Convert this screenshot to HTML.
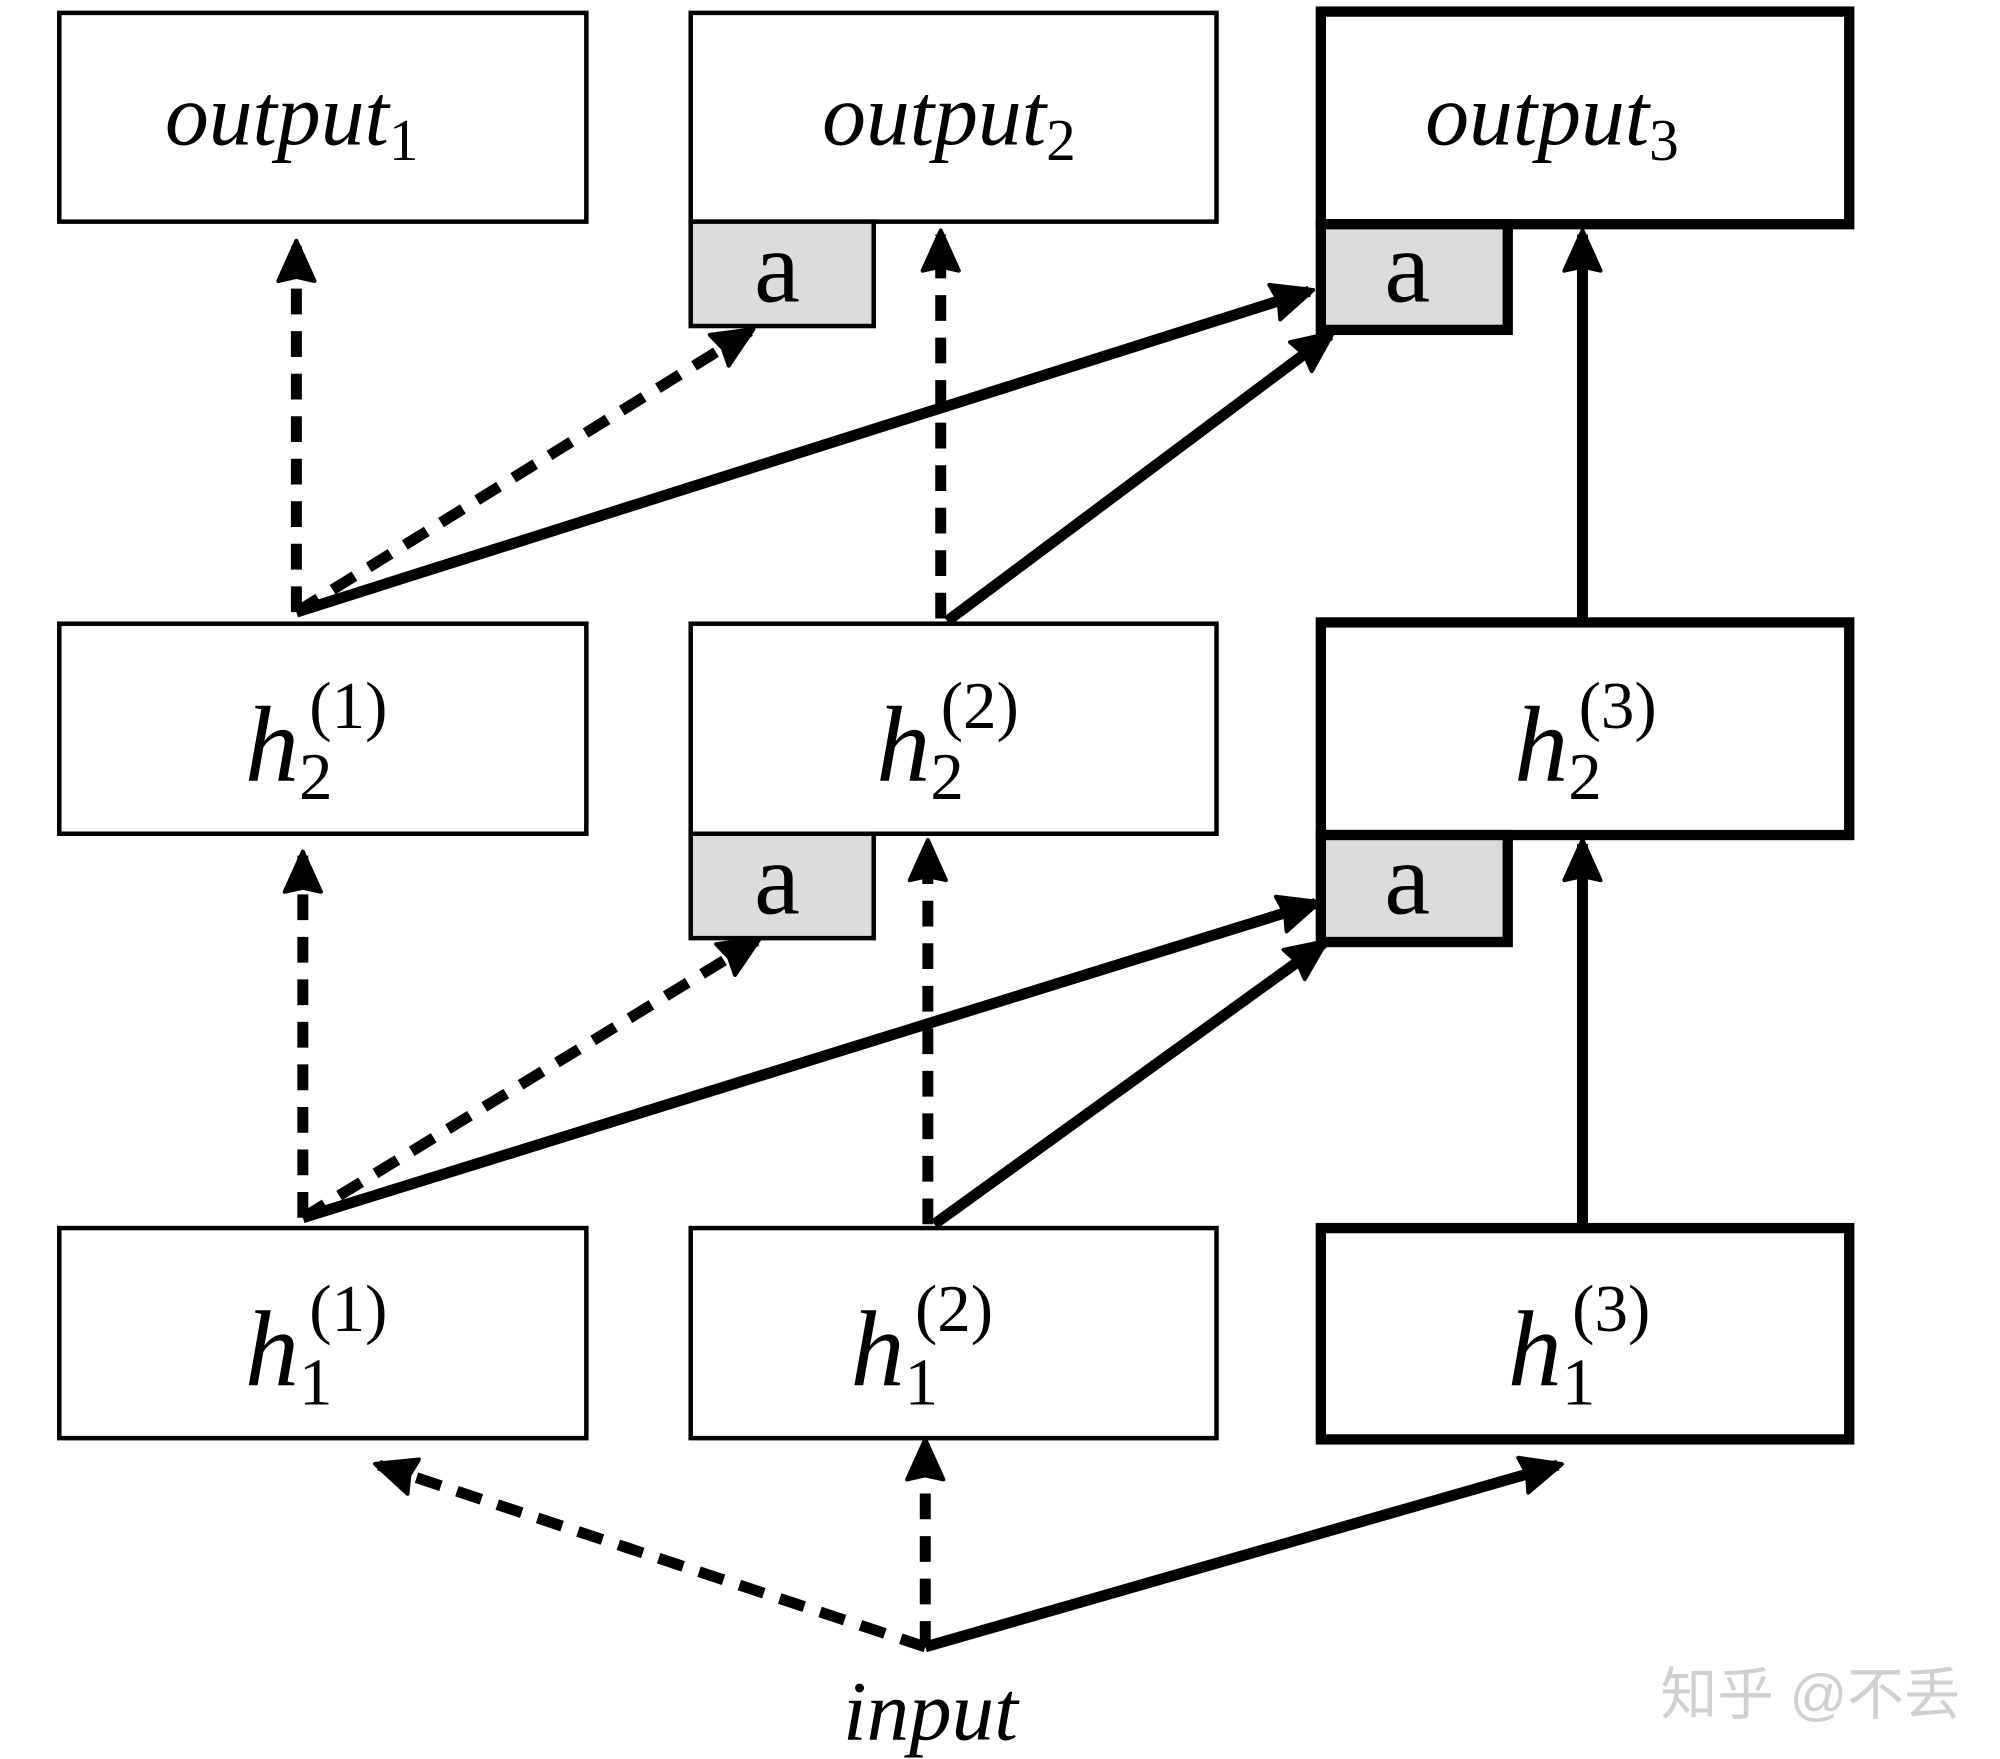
<!DOCTYPE html>
<html><head><meta charset="utf-8"><style>
html,body{margin:0;padding:0;background:#fff;}
svg{display:block;}
text{font-family:"Liberation Serif",serif;}
</style></head><body>
<svg width="2000" height="1759" viewBox="0 0 1552 1365" preserveAspectRatio="none" xmlns="http://www.w3.org/2000/svg">
<defs>
<marker id="ah" viewBox="-1 -1 12 12" refX="9" refY="5" markerWidth="4.4" markerHeight="4.4" markerUnits="strokeWidth" orient="auto">
<path d="M0,0.5 L10,5 L0,9.5 L1,5 Z" fill="#000" stroke="#000" stroke-width="1" stroke-linejoin="round"/>
</marker>
</defs>
<g fill="#fff" stroke="#000" stroke-width="3.5">
<rect x="46" y="10" width="409" height="162"/>
<rect x="536" y="10" width="408" height="162"/>
<rect x="46" y="484" width="409" height="163"/>
<rect x="536" y="484" width="408" height="163"/>
<rect x="46" y="953" width="409" height="163"/>
<rect x="536" y="953" width="408" height="163"/>
</g>
<g fill="#fff" stroke="#000" stroke-width="8">
<rect x="1025" y="9" width="410" height="165"/>
<rect x="1025" y="483" width="410" height="165"/>
<rect x="1025" y="953" width="410" height="164"/>
</g>
<g fill="#dcdcdc" stroke="#000">
<rect x="536" y="172" width="142" height="81" stroke-width="3.5"/>
<rect x="536" y="647" width="142" height="81" stroke-width="3.5"/>
<rect x="1025" y="174" width="145" height="82" stroke-width="8"/>
<rect x="1025" y="648" width="145" height="83" stroke-width="8"/>
</g>
<g font-size="80" text-anchor="middle" fill="#000">
<text x="603" y="234">a</text>
<text x="603" y="709">a</text>
<text x="1092" y="234">a</text>
<text x="1092" y="709">a</text>
</g>
<g fill="none" stroke="#000" stroke-width="8.5" marker-end="url(#ah)">
<path d="M230,475 L230,190" stroke-dasharray="20,13"/>
<path d="M230,475 L582,257" stroke-dasharray="20,13"/>
<path d="M230,475 L1016,226"/>
<path d="M730,480 L730,182" stroke-dasharray="20,13"/>
<path d="M735,482 L1032,260"/>
<path d="M1228,480 L1228,182"/>
<path d="M235,945 L235,664" stroke-dasharray="20,13"/>
<path d="M235,945 L587,730" stroke-dasharray="20,13"/>
<path d="M235,945 L1021,701"/>
<path d="M720,950 L720,655" stroke-dasharray="20,13"/>
<path d="M725,950 L1027,732"/>
<path d="M1228,950 L1228,655"/>
<path d="M718,1278 L294,1137" stroke-dasharray="20,13"/>
<path d="M718,1278 L718,1120" stroke-dasharray="20,13"/>
<path d="M718,1278 L1209,1137"/>
</g>
<g fill="#000" font-style="italic" font-size="68">
<text x="128" y="112">output<tspan font-style="normal" font-size="46" dy="12">1</tspan></text>
<text x="638" y="112">output<tspan font-style="normal" font-size="46" dy="12">2</tspan></text>
<text x="1106" y="112">output<tspan font-style="normal" font-size="46" dy="12">3</tspan></text>
</g>
<g fill="#000" font-size="52">
<text x="190" y="606" font-style="italic" font-size="84">h</text><text x="232" y="620">2</text><text x="240" y="565">(1)</text>
<text x="680" y="606" font-style="italic" font-size="84">h</text><text x="722" y="620">2</text><text x="730" y="565">(2)</text>
<text x="1175" y="606" font-style="italic" font-size="84">h</text><text x="1217" y="620">2</text><text x="1225" y="565">(3)</text>
<text x="190" y="1075" font-style="italic" font-size="84">h</text><text x="232" y="1090">1</text><text x="240" y="1033">(1)</text>
<text x="660" y="1075" font-style="italic" font-size="84">h</text><text x="702" y="1090">1</text><text x="710" y="1033">(2)</text>
<text x="1170" y="1075" font-style="italic" font-size="84">h</text><text x="1212" y="1090">1</text><text x="1220" y="1033">(3)</text>
</g>
<text x="722" y="1350" text-anchor="middle" font-style="italic" font-size="66" fill="#000">input</text>
<text x="1405" y="1330" text-anchor="middle" font-size="44" fill="#d0d0d0" style="font-family:'Liberation Sans','Noto Sans CJK SC',sans-serif">知乎 @不丢</text>
</svg>
</body></html>
